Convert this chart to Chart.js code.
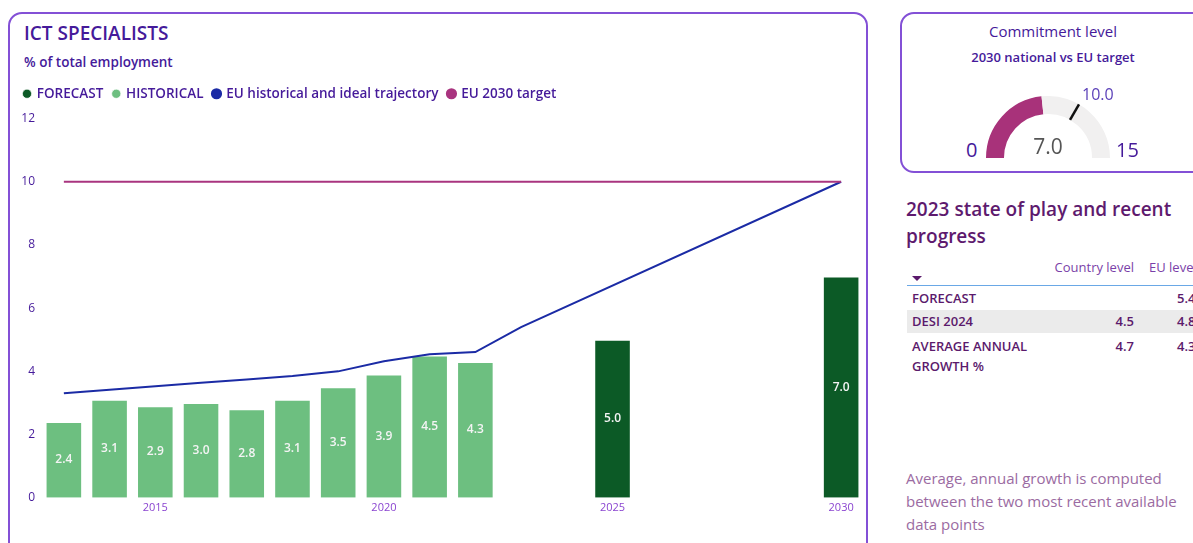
<!DOCTYPE html>
<html>
<head>
<meta charset="utf-8">
<script src="https://cdn.jsdelivr.net/npm/chart.js@4.4.1/dist/chart.umd.min.js"></script>
<style>
  body { margin: 0; width: 1193px; height: 543px; overflow: hidden; background: #fff; position: relative;
         font-family: "Open Sans", "Noto Sans", sans-serif; }
  .panel { position: absolute; border: 2px solid #8350d6; border-radius: 14px; box-sizing: border-box; }
  .t { position: absolute; white-space: nowrap; }
  #chartBox { position: absolute; left: 14px; top: 77px; width: 850px; height: 440px; }
  #gaugeCanvas { position: absolute; left: 986px; top: 96px; }
  .row { position: absolute; left: 907px; width: 300px; height: 23px; font-size: 13px; font-weight: 600; color: #5b1a6c; }
  .row span { position: absolute; line-height: 23px; }
</style>
</head>
<body>
<div class="panel" style="left:8px; top:12px; width:860px; height:560px;"></div>
<div class="panel" style="left:900px; top:12px; width:330px; height:161px;"></div>

<div class="t" style="left:24px; top:20px; font-size:19px; font-weight:600; color:#451a9a; line-height:26px;">ICT SPECIALISTS</div>
<div class="t" style="left:24px; top:53px; font-size:13.5px; font-weight:600; color:#451a9a; line-height:18px;">% of total employment</div>
<div id="chartBox"><canvas id="mainChart"></canvas></div>

<div class="t" style="left:953px; top:21px; width:200px; text-align:center; font-size:15px; color:#451a9a; line-height:20px;">Commitment level</div>
<div class="t" style="left:953px; top:48px; width:200px; text-align:center; font-size:13px; font-weight:600; color:#451a9a; line-height:18px;">2030 national vs EU target</div>
<canvas id="gaugeCanvas" width="124" height="62"></canvas>
<div class="t" style="left:966px; top:137px; font-size:20px; color:#451a9a; line-height:26px;">0</div>
<div class="t" style="left:1116px; top:137px; font-size:20px; color:#451a9a; line-height:26px;">15</div>
<div class="t" style="left:1008px; top:132px; width:80px; text-align:center; font-size:21px; color:#555; line-height:28px;">7.0</div>
<div class="t" style="left:1082px; top:83px; font-size:16px; color:#5a3fb8; line-height:22px;">10.0</div>

<div class="t" style="left:906px; top:196px; font-size:19px; font-weight:600; color:#5e1a6e; line-height:27px;">2023 state of play and recent<br>progress</div>
<div class="t" style="left:1000px; top:258px; width:134px; text-align:right; font-size:13px; color:#7a3fa8; line-height:18px;">Country level</div>
<div class="t" style="left:1149px; top:258px; font-size:13px; color:#7a3fa8; line-height:18px;">EU level</div>
<div class="t" style="left:912px; top:276px; width:0; height:0; border-left:5px solid transparent; border-right:5px solid transparent; border-top:5px solid #5b1a6c;"></div>
<div class="t" style="left:907px; top:285px; width:300px; height:0; border-top:1.5px solid #6aa8e6;"></div>
<div class="row" style="top:287px;"><span style="left:5px;">FORECAST</span><span style="left:270px;">5.4</span></div>
<div class="row" style="top:310px; background:#ebebeb;"><span style="left:5px;">DESI 2024</span><span style="right:73px;">4.5</span><span style="left:270px;">4.8</span></div>
<div class="row" style="top:335px;"><span style="left:5px;">AVERAGE ANNUAL</span><span style="right:73px;">4.7</span><span style="left:270px;">4.3</span></div>
<div class="row" style="top:355px;"><span style="left:5px;">GROWTH %</span></div>
<div class="t" style="left:906px; top:467px; font-size:15px; color:#9b6ba2; line-height:23px;">Average, annual growth is computed<br>between the two most recent available<br>data points</div>

<script>
// years on the x axis
const years = ['2013', '2014', '2015', '2016', '2017', '2018', '2019', '2020', '2021',
  '2022', '2023', '2024', '2025', '2026', '2027', '2028', '2029', '2030'];
const xTickLabels = ['2015', '2020', '2025', '2030'];

const historical = [2.4, 3.1, 2.9, 3.0, 2.8, 3.1, 3.5, 3.9, 4.5, 4.3,
  null, null, null, null, null, null, null, null];
const forecast = [null, null, null, null, null, null, null, null, null, null,
  null, null, 5.0, null, null, null, null, 7.0];
const euTrajectory = [3.31, 3.42, 3.53, 3.64, 3.74, 3.85, 4.0, 4.32, 4.54, 4.61,
  5.4, null, null, null, null, null, null, 10];
const euTarget = [10, null, null, null, null, null, null, null, null, null,
  null, null, null, null, null, null, null, 10];

// gauge
const gaugeValue = 7.0;
const gaugeTarget = 10.0;
const gaugeMax = 15;

const purple = '#451a9a';

// white value labels in the middle of each bar
const barLabels = {
  id: 'barLabels',
  afterDatasetsDraw(chart) {
    const ctx = chart.ctx;
    chart.data.datasets.forEach((ds, i) => {
      const meta = chart.getDatasetMeta(i);
      if (meta.type !== 'bar') return;
      meta.data.forEach((bar, j) => {
        const v = ds.data[j];
        if (v == null) return;
        ctx.save();
        ctx.fillStyle = '#f4f4f4';
        ctx.font = '600 12px "Open Sans", sans-serif';
        ctx.textAlign = 'center';
        ctx.textBaseline = 'middle';
        ctx.fillText(v.toFixed(1), bar.x, (bar.y + bar.base) / 2);
        ctx.restore();
      });
    });
  }
};

// a bit of room between legend and plot
const legendGap = {
  id: 'legendGap',
  beforeInit(chart) {
    const fit = chart.legend.fit;
    chart.legend.fit = function () {
      fit.bind(chart.legend)();
      this.height += 8;
    };
  }
};

new Chart(document.getElementById('mainChart'), {
  type: 'bar',
  data: {
    labels: years,
    datasets: [
      {
        label: 'FORECAST',
        data: forecast,
        backgroundColor: '#0c5a26',
        borderColor: 'rgba(255,255,255,0.7)',
        borderWidth: 1,
        skipNull: true,
        categoryPercentage: 0.8,
        barPercentage: 1,
        order: 2
      },
      {
        label: 'HISTORICAL',
        data: historical,
        backgroundColor: '#6dbf80',
        borderColor: 'rgba(255,255,255,0.7)',
        borderWidth: 1,
        skipNull: true,
        categoryPercentage: 0.8,
        barPercentage: 1,
        order: 2
      },
      {
        type: 'line',
        label: 'EU historical and ideal trajectory',
        data: euTrajectory,
        borderColor: '#1b2ba5',
        backgroundColor: '#1b2ba5',
        borderWidth: 2,
        pointRadius: 0,
        spanGaps: true,
        order: 1
      },
      {
        type: 'line',
        label: 'EU 2030 target',
        data: euTarget,
        borderColor: '#a9347f',
        backgroundColor: '#a9347f',
        borderWidth: 2,
        pointRadius: 0,
        spanGaps: true,
        order: 0
      }
    ]
  },
  options: {
    responsive: true,
    maintainAspectRatio: false,
    animation: false,
    layout: { padding: 0 },
    plugins: {
      tooltip: { enabled: false },
      legend: {
        position: 'top',
        align: 'start',
        labels: {
          usePointStyle: true,
          pointStyle: 'circle',
          boxWidth: 6,
          boxHeight: 6.5,
          padding: 10,
          color: purple,
          font: { family: '"Open Sans", sans-serif', size: 13.5, weight: '600' },
          sort: (a, b) => a.datasetIndex - b.datasetIndex
        }
      }
    },
    scales: {
      x: {
        grid: { display: false, drawTicks: false },
        border: { display: false },
        ticks: {
          autoSkip: false,
          maxRotation: 0,
          padding: 3,
          color: '#8a44d0',
          font: { family: '"Open Sans", sans-serif', size: 11 },
          callback(value) {
            const label = this.getLabelForValue(value);
            return xTickLabels.includes(label) ? label : '';
          }
        }
      },
      y: {
        min: 0,
        max: 12,
        grid: { display: false, drawTicks: false },
        border: { display: false },
        ticks: {
          stepSize: 2,
          padding: 6,
          color: purple,
          font: { family: '"Open Sans", sans-serif', size: 12 }
        },
        afterFit(scale) { scale.width = 27; }
      }
    }
  },
  plugins: [barLabels, legendGap]
});

// black tick on the gauge at the EU target
const targetMarker = {
  id: 'targetMarker',
  afterDraw(chart) {
    const arc = chart.getDatasetMeta(0).data[0];
    const a = Math.PI + (gaugeTarget / gaugeMax) * Math.PI;
    const ctx = chart.ctx;
    ctx.save();
    ctx.strokeStyle = '#111';
    ctx.lineWidth = 2.5;
    ctx.beginPath();
    ctx.moveTo(arc.x + Math.cos(a) * arc.innerRadius, arc.y + Math.sin(a) * arc.innerRadius);
    ctx.lineTo(arc.x + Math.cos(a) * arc.outerRadius, arc.y + Math.sin(a) * arc.outerRadius);
    ctx.stroke();
    ctx.restore();
  }
};

new Chart(document.getElementById('gaugeCanvas'), {
  type: 'doughnut',
  data: {
    datasets: [{
      data: [gaugeValue, gaugeMax - gaugeValue],
      backgroundColor: ['#a8327a', '#f1f0f0'],
      borderWidth: 0
    }]
  },
  options: {
    responsive: false,
    animation: false,
    rotation: -90,
    circumference: 180,
    cutout: '71%',
    plugins: { legend: { display: false }, tooltip: { enabled: false } }
  },
  plugins: [targetMarker]
});
</script>
</body>
</html>
